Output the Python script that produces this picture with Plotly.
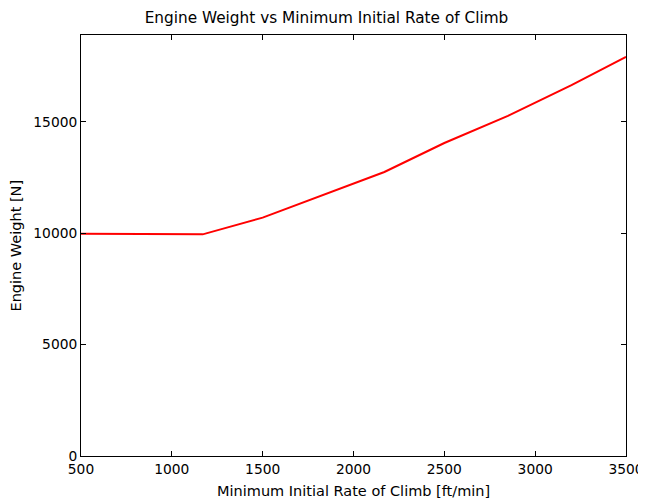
import plotly.graph_objects as go

rate_of_climb = [500, 1170, 1500, 2170, 2500, 2850, 3200, 3500]
engine_weight = [9980, 9950, 10700, 12750, 14050, 15270, 16650, 17920]
x_ticks = [500, 1000, 1500, 2000, 2500, 3000, 3500]
y_ticks = [0, 5000, 10000, 15000]

fig = go.Figure()
fig.add_trace(go.Scatter(x=rate_of_climb, y=engine_weight, mode="lines",
                         line=dict(color="#ff0000", width=2), showlegend=False))

font = "DejaVu Sans, sans-serif"
axis_common = dict(showgrid=False, zeroline=False, showline=True, linecolor="black",
                   linewidth=1, mirror="ticks", ticks="inside", ticklen=5,
                   tickcolor="black", tickwidth=1, automargin=False,
                   tickfont=dict(family=font, size=13.8, color="black"))

# page is rendered with an 8px body margin, so offsets compensate for it
L, R, T, B = 73, 28, 27, 54

fig.update_layout(
    width=646, height=502,
    margin=dict(l=L, r=R, t=T, b=B, pad=0),
    paper_bgcolor="white", plot_bgcolor="white",
    title=dict(text="Engine Weight vs Minimum Initial Rate of Climb",
               x=318.5 / 646, xanchor="center", y=1 - 10/502, yanchor="middle",
               font=dict(family=font, size=15.3, color="black")),
    xaxis=dict(range=[500, 3500], tickvals=x_ticks,
               ticktext=[str(v) for v in x_ticks], **axis_common),
    yaxis=dict(range=[0, 18900], tickvals=y_ticks,
               ticktext=[str(v) for v in y_ticks], **axis_common),
    annotations=[
        dict(text="Minimum Initial Rate of Climb [ft/min]", xref="paper", yref="paper",
             x=0.5, y=0, xanchor="center", yanchor="middle", yshift=-35,
             showarrow=False, font=dict(family=font, size=14.5, color="black")),
        dict(text="Engine Weight [N]", xref="paper", yref="paper",
             x=0, y=0.5, xanchor="center", yanchor="middle", xshift=-66,
             textangle=-90, showarrow=False,
             font=dict(family=font, size=14.5, color="black")),
    ],
)

fig.write_html("out.html")
